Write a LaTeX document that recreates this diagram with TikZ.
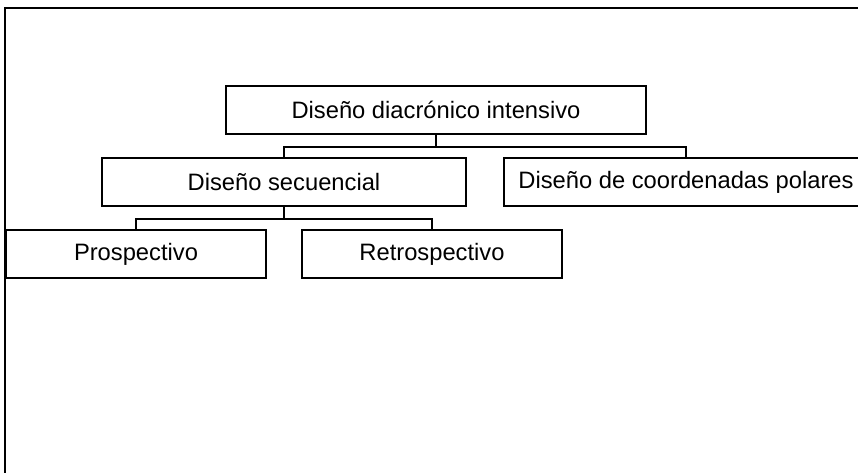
\documentclass[tikz,border=0pt]{standalone}
\usepackage{fontspec}
\setmainfont{Liberation Sans}
\begin{document}
\begin{tikzpicture}[x=.75pt, y=-.75pt, line width=1.5pt,
    box/.style={draw, rectangle, minimum height=36pt, inner sep=0pt, font=\fontsize{17.8}{21}\selectfont}]
    \useasboundingbox (0,0) rectangle (858,473);
    \clip (0,0) rectangle (858,473);
    \draw (5,473)--(5,8)--(858,8);
\node[box, minimum width=315pt] (diac) at (436,110){Diseño diacrónico intensivo};
\node[box, minimum width=273pt] (secu) at (284,182){Diseño secuencial};
\node[box, minimum width=273pt] (pola) at (686,182){Diseño de coordenadas polares};
\node[box, minimum width=195pt] (pros) at (136,254){Prospectivo};
\node[box, minimum width=195pt] (retr) at (432,254){Retrospectivo};
\foreach \a/\b in {diac/secu, diac/pola, secu/pros, secu/retr}
{
\draw (\a.south)--++(0,12)-|(\b.north);
}
    \end{tikzpicture}
\end{document}
